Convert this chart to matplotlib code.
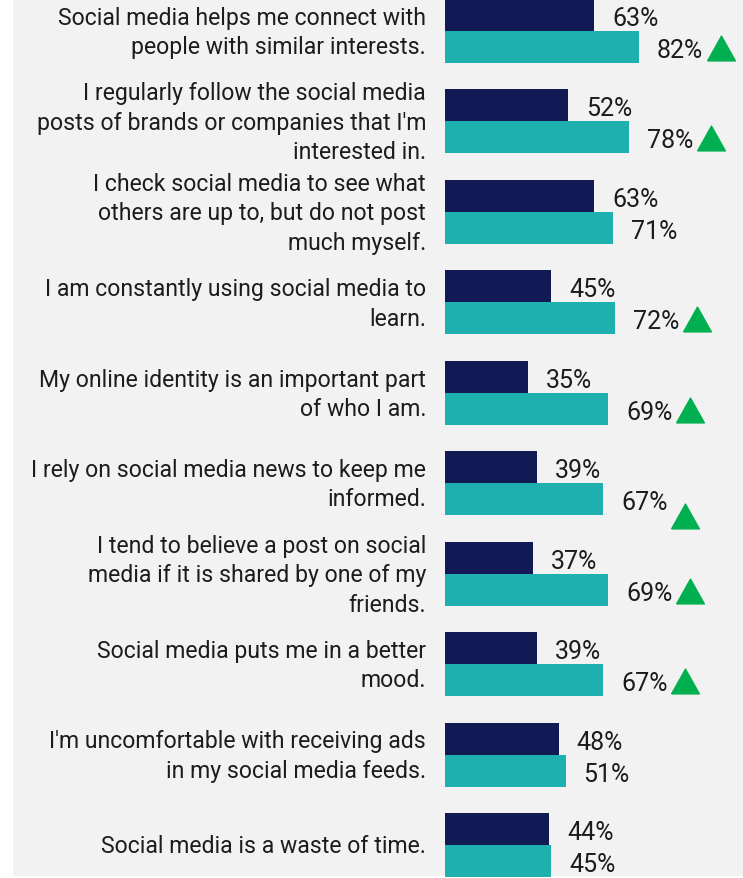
import matplotlib.pyplot as plt
from matplotlib.patches import Rectangle
from matplotlib.transforms import offset_copy

# statements (top to bottom)
statements = [
    "Social media helps me connect with\npeople with similar interests.",
    "I regularly follow the social media\nposts of brands or companies that I'm\ninterested in.",
    "I check social media to see what\nothers are up to, but do not post\nmuch myself.",
    "I am constantly using social media to\nlearn.",
    "My online identity is an important part\nof who I am.",
    "I rely on social media news to keep me\ninformed.",
    "I tend to believe a post on social\nmedia if it is shared by one of my\nfriends.",
    "Social media puts me in a better\nmood.",
    "I'm uncomfortable with receiving ads\nin my social media feeds.",
    "Social media is a waste of time.",
]
dark_vals = [63, 52, 63, 45, 35, 39, 37, 39, 48, 44]
teal_vals = [82, 78, 71, 72, 69, 67, 69, 67, 51, 45]
# green up-arrow shown next to the teal value
up_arrow = [True, True, False, True, True, True, True, True, False, False]

navy = '#121a56'
teal = '#1eb0ae'
green = '#00b050'
txt = '#1c1c1c'
bg = '#f2f2f2'

plt.rcParams['font.family'] = ['Roboto', 'DejaVu Sans']

fig = plt.figure(figsize=(7.43, 8.79), dpi=100)
fig.patches.append(Rectangle((13 / 743, 2 / 879), 1, 1, transform=fig.transFigure,
                             facecolor=bg, edgecolor='none', zorder=-5))

ax = fig.add_axes([445 / 743, 0, 298 / 743, 1])
ax.set_facecolor('none')
ax.axis('off')

px_per_pct = 2.365
h = 32 / 90.44
n = len(statements)
ax.set_xlim(0, 298 / px_per_pct)
ax.set_ylim(879 / 90.44 - h, -h)

ys = list(range(n))
ax.barh([y - h / 2 for y in ys], dark_vals, height=h, color=navy, align='center')
ax.barh([y + h / 2 for y in ys], teal_vals, height=h, color=teal, align='center')

lab_tr = offset_copy(ax.transData, fig=fig, x=18, y=-3, units='dots')
cat_tr = offset_copy(ax.transData, fig=fig, x=-19, y=-1, units='dots')

tri_verts = [(-14, -12.5), (14, -12.5), (0, 12.5), (-14, -12.5)]
tri_nudge = {5: -16}  # that one arrow sits lower in the original

for i in range(n):
    ax.text(0, i, statements[i], transform=cat_tr, ha='right', va='center',
            multialignment='right', fontsize=16.6, color=txt, linespacing=1.36)
    ax.text(dark_vals[i], i - h / 2, f"{dark_vals[i]}%", transform=lab_tr,
            ha='left', va='center', fontsize=18, color=txt)
    ax.text(teal_vals[i], i + h / 2, f"{teal_vals[i]}%", transform=lab_tr,
            ha='left', va='center', fontsize=18, color=txt)
    if up_arrow[i]:
        tri_tr = offset_copy(ax.transData, fig=fig, x=82, y=tri_nudge.get(i, 0) - 1, units='dots')
        ax.plot(teal_vals[i], i + h / 2, marker=tri_verts, markersize=20,
                color=green, transform=tri_tr, clip_on=False)

fig.savefig('out.png', dpi=100, facecolor='white')
